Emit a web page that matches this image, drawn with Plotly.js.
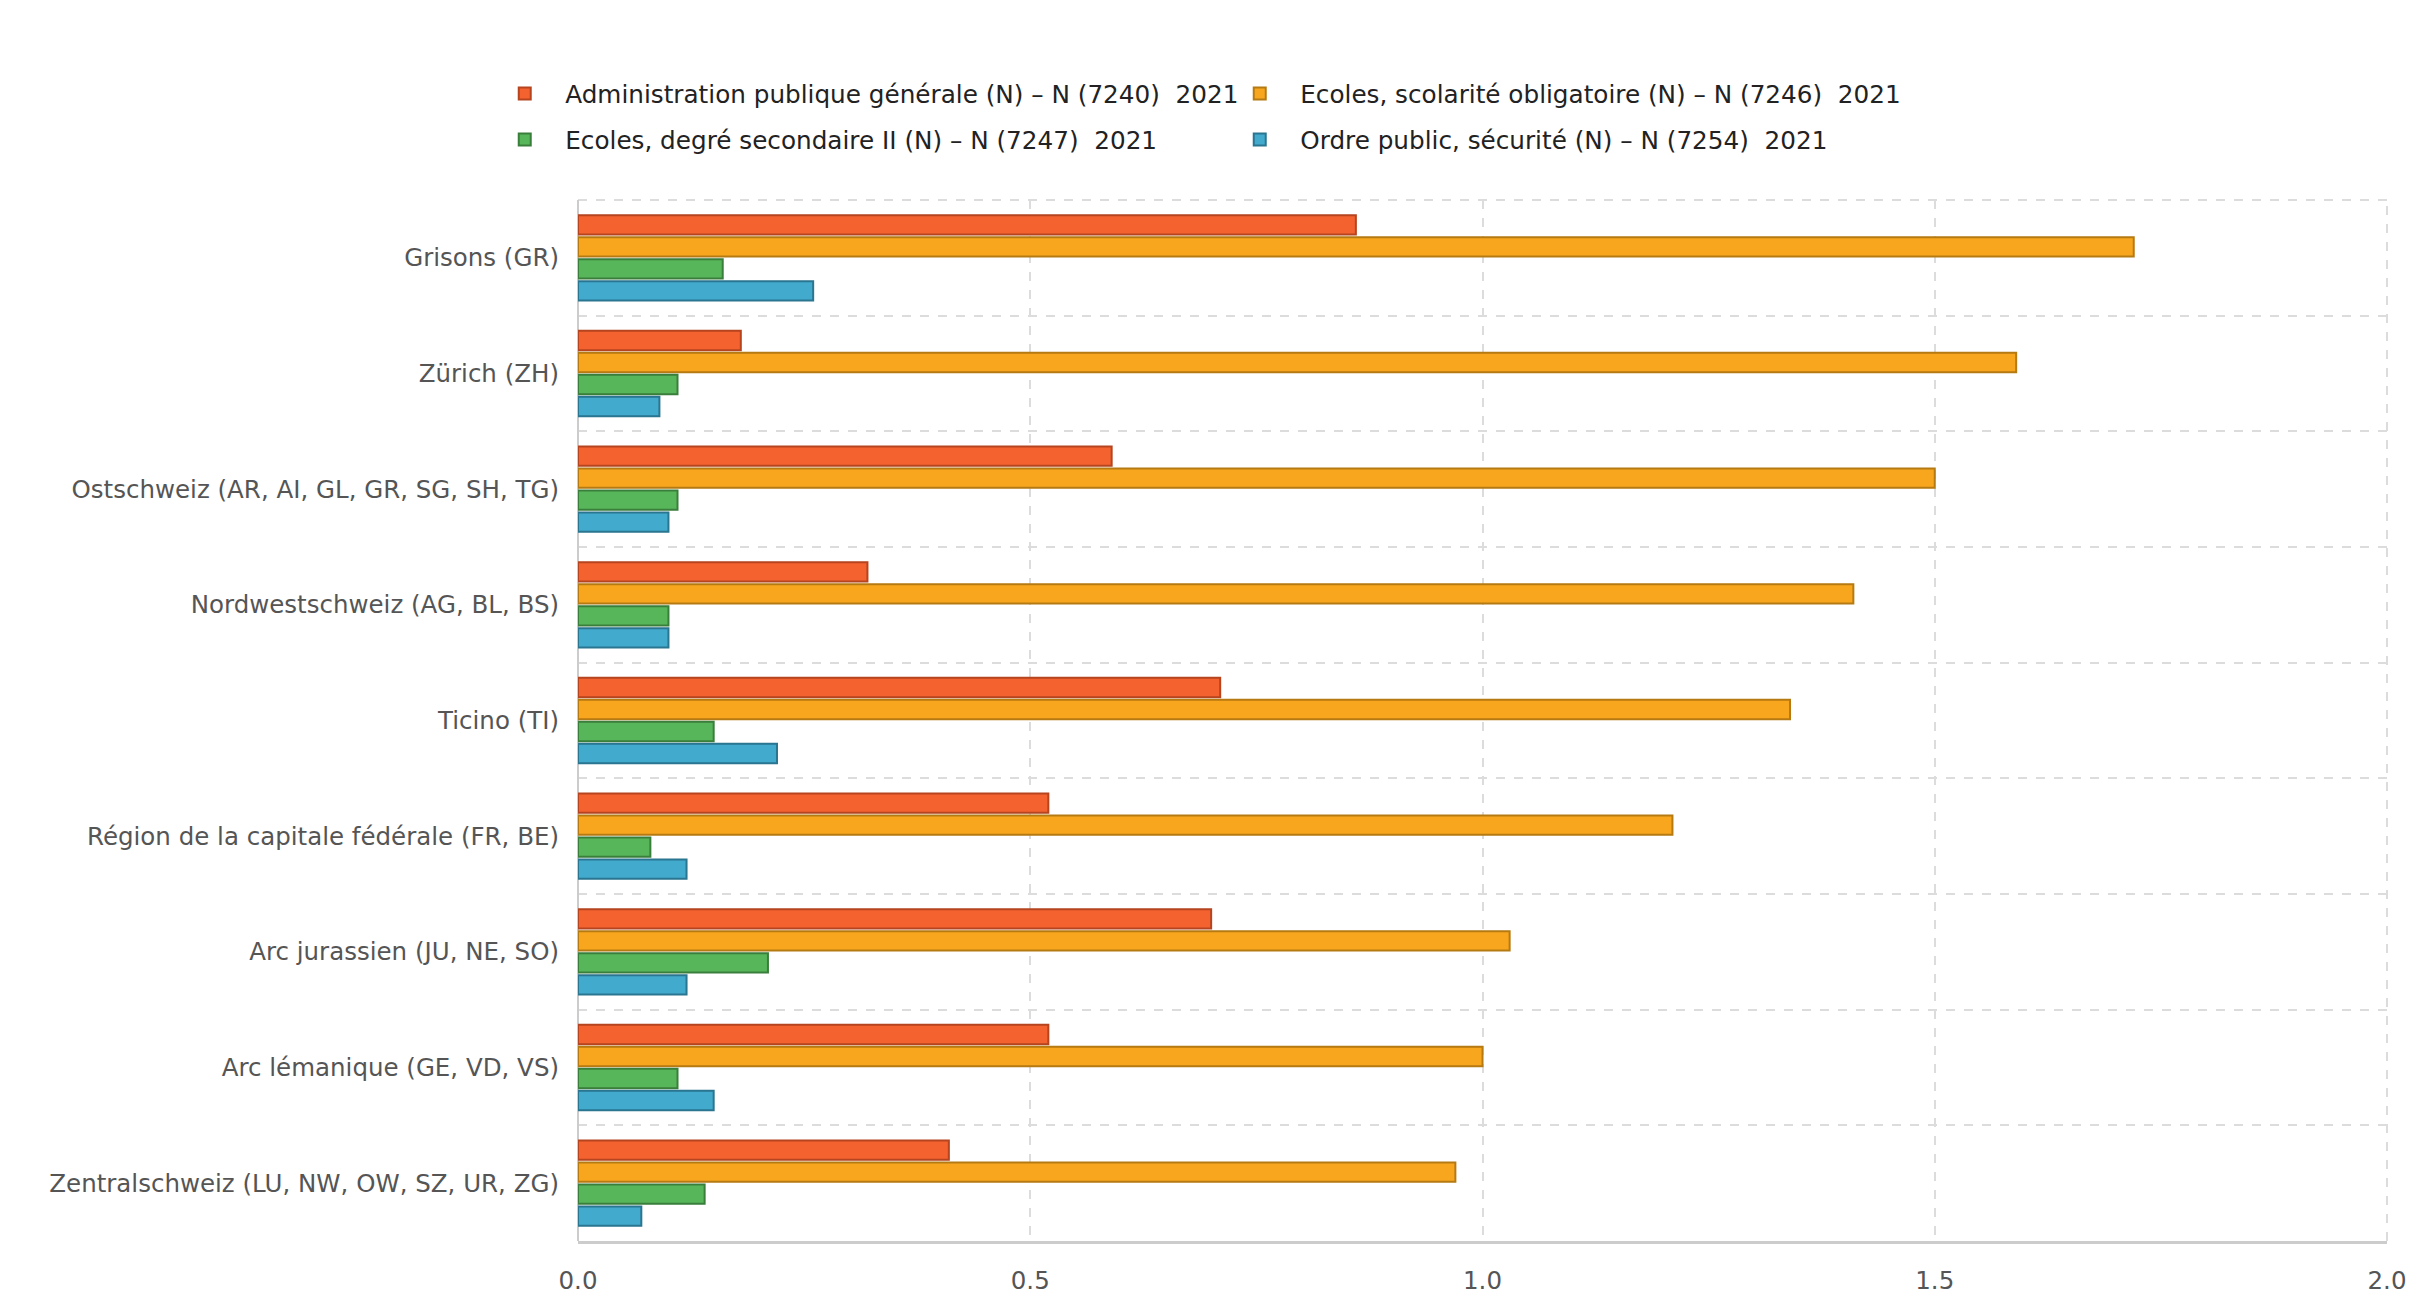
<!DOCTYPE html>
<html>
<head>
<meta charset="utf-8">
<script src="https://cdn.plot.ly/plotly-3.0.1.min.js"></script>
<style>html,body{margin:0;padding:0;background:#fff;}#chart{width:2420px;height:1314px;}</style>
</head>
<body>
<div id="chart"></div>
<script>
const regions = [
  "Grisons (GR)",
  "Zürich (ZH)",
  "Ostschweiz (AR, AI, GL, GR, SG, SH, TG)",
  "Nordwestschweiz (AG, BL, BS)",
  "Ticino (TI)",
  "Région de la capitale fédérale (FR, BE)",
  "Arc jurassien (JU, NE, SO)",
  "Arc lémanique (GE, VD, VS)",
  "Zentralschweiz (LU, NW, OW, SZ, UR, ZG)"
];
const seriesNames = [
  "Administration publique générale (N) – N (7240)  2021",
  "Ecoles, scolarité obligatoire (N) – N (7246)  2021",
  "Ecoles, degré secondaire II (N) – N (7247)  2021",
  "Ordre public, sécurité (N) – N (7254)  2021"
];
const adminValues   = [0.86, 0.18, 0.59, 0.32, 0.71, 0.52, 0.70, 0.52, 0.41];
const ecolesObligValues = [1.72, 1.59, 1.50, 1.41, 1.34, 1.21, 1.03, 1.00, 0.97];
const ecolesSecValues   = [0.16, 0.11, 0.11, 0.10, 0.15, 0.08, 0.21, 0.11, 0.14];
const ordreValues   = [0.26, 0.09, 0.10, 0.10, 0.22, 0.12, 0.12, 0.15, 0.07];
const xTickVals = [0, 0.5, 1.0, 1.5, 2.0];
const xTickText = ["0.0", "0.5", "1.0", "1.5", "2.0"];

const fills = ["#F4622F", "#F9A61F", "#58B65A", "#42AACD"];
const lines = ["#B5441F", "#B67A12", "#3A7E3C", "#2A7590"];
const legendRefs = ["legend", "legend", "legend2", "legend2"];
const allValues = [adminValues, ecolesObligValues, ecolesSecValues, ordreValues];

const traces = allValues.map((vals, i) => ({
  type: "bar",
  orientation: "h",
  name: seriesNames[i],
  legend: legendRefs[i],
  y: regions,
  x: vals,
  marker: { color: fills[i], line: { color: lines[i], width: 2 } },
  hoverinfo: "x+name"
}));

const font = "Verdana, 'DejaVu Sans', sans-serif";
const legendBase = {
  orientation: "h",
  xref: "container",
  yref: "container",
  x: 0.2001,
  xanchor: "left",
  yanchor: "middle",
  entrywidth: 649,
  entrywidthmode: "pixels",
  itemwidth: 71,
  traceorder: "normal",
  font: { family: font, size: 24.7, color: "#222" },
  bgcolor: "rgba(0,0,0,0)"
};
const gridColor = "#dcdcdc";
const layout = {
  width: 2420,
  height: 1314,
  paper_bgcolor: "#fff",
  plot_bgcolor: "#fff",
  font: { family: font, size: 24.5, color: "#444" },
  margin: { l: 578, r: 33, t: 200, b: 73, autoexpand: false },
  barmode: "group",
  bargap: 0.24,
  bargroupgap: 0.12,
  showlegend: true,
  legend: Object.assign({}, legendBase, { y: 1 - 94 / 1314 }),
  legend2: Object.assign({}, legendBase, { y: 1 - 140 / 1314 }),
  xaxis: {
    range: [0, 2],
    tickvals: xTickVals,
    ticktext: xTickText,
    showgrid: true,
    gridcolor: gridColor,
    gridwidth: 2,
    griddash: "dash",
    zeroline: true,
    zerolinecolor: "#cccccc",
    zerolinewidth: 2,
    showline: true,
    linecolor: "#cccccc",
    linewidth: 3,
    ticks: "outside",
    ticklen: 16,
    tickcolor: "rgba(0,0,0,0)",
    tickfont: { family: font, size: 24.5, color: "#555" },
    fixedrange: true
  },
  yaxis: {
    type: "category",
    autorange: "reversed",
    tickson: "boundaries",
    showgrid: true,
    gridcolor: gridColor,
    gridwidth: 2,
    griddash: "dash",
    showline: false,
    ticks: "",
    ticklabelstandoff: 18,
    tickfont: { family: font, size: 24.5, color: "#555" },
    fixedrange: true
  },
  shapes: [
    { type: "line", xref: "paper", yref: "paper", x0: 0, x1: 1, y0: 1, y1: 1,
      line: { color: gridColor, width: 2, dash: "dash" }, layer: "below" },
    { type: "line", xref: "paper", yref: "paper", x0: 1, x1: 1, y0: 0, y1: 1,
      line: { color: gridColor, width: 2, dash: "dash" }, layer: "below" }
  ]
};

Plotly.newPlot("chart", traces, layout, { displayModeBar: false, responsive: false });
</script>
</body>
</html>
